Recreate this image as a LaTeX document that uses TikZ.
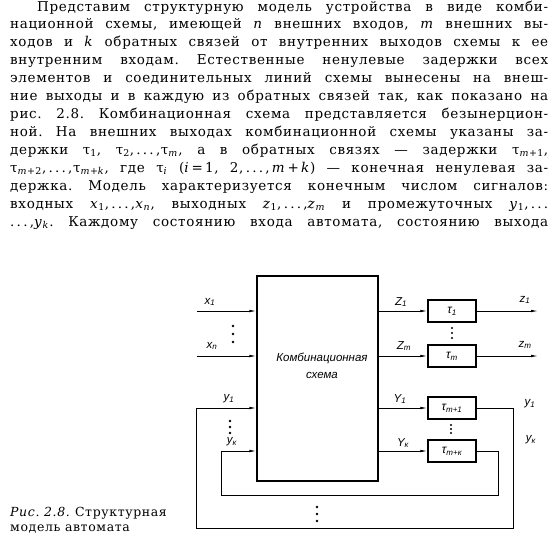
\documentclass[tikz,border=0pt]{standalone}
\usepackage{fontspec}
\setmainfont{DejaVu Serif}[LetterSpace=5]
\newfontfamily\dfont{Liberation Sans}
\usetikzlibrary{arrows.meta, positioning}
\frenchspacing
\newcommand\tline[1]{\hbox to 538pt{#1}}
\newcommand\sig[2]{#1\textsubscript{#2}}
\newcommand\vr[1]{\textit{#1}}
\newcommand\vs[2]{#1\textsubscript{#2}}

\begin{document}
\begin{tikzpicture}[x=1pt, y=-1pt,
    txt/.style={anchor=base west, inner sep=0pt, font=\fontsize{13.5}{17.9}\selectfont},
    scheme/.style={draw, line width=1.3pt, inner sep=0pt},
    delay/.style={draw, line width=1.4pt, minimum width=48pt, minimum height=22pt, inner sep=0pt,
        font=\dfont\itshape\fontsize{12}{13}\selectfont},
    wire/.style={line width=0.8pt},
    arr/.style={wire, -{Latex[length=7pt,width=2.6pt]}},
    lbl/.style={inner sep=0pt, font=\dfont\itshape\fontsize{11.5}{13}\selectfont}]
    \useasboundingbox (0,0) rectangle (559,554);
    % Text above the figure
    \node[txt] (t1) at (10,11) {\tline{\hskip27pt Представим структурную модель устройства в виде комби-}};
    \node[txt] (t2) at (10,28.9) {\tline{национной схемы, имеющей \vr{n} внешних входов, \vr{m} внешних вы-}};
    \node[txt] (t3) at (10,46.8) {\tline{ходов и \vr{k} обратных связей от внутренних выходов схемы к ее}};
    \node[txt] (t4) at (10,64.8) {\tline{внутренним входам. Естественные ненулевые задержки всех}};
    \node[txt] (t5) at (10,82.7) {\tline{элементов и соединительных линий схемы вынесены на внеш-}};
    \node[txt] (t6) at (10,100.6) {\tline{ние выходы и в каждую из обратных связей так, как показано на}};
    \node[txt] (t7) at (10,118.5) {\tline{рис. 2.8. Комбинационная схема представляется безынерцион-}};
    \node[txt] (t8) at (10,136.4) {\tline{ной. На внешних выходах комбинационной схемы указаны за-}};
    \node[txt] (t9) at (10,154.3) {\tline{держки \vs{τ}{1}, \vs{τ}{2},\,.\,.\,.\,,\vs{τ}{\vr{m}}, а в обратных связях — задержки \vs{τ}{\vr{m}+1},}};
    \node[txt] (t10) at (10,172.2) {\tline{\vs{τ}{\vr{m}+2},\,.\,.\,.\,,\vs{τ}{\vr{m}+\vr{k}}, где \vs{τ}{\vr{i}} (\vr{i}\,=\,1, 2,\,.\,.\,.\,,\,\vr{m}\,+\,\vr{k}) — конечная ненулевая за-}};
    \node[txt] (t11) at (10,190.2) {\tline{держка. Модель характеризуется конечным числом сигналов:}};
    \node[txt] (t12) at (10,208.1) {\tline{входных \vs{\vr{x}}{1},\,.\,.\,.\,,\vs{\vr{x}}{\vr{n}}, выходных \vs{\vr{z}}{1},\,.\,.\,.\,,\vs{\vr{z}}{\vr{m}} и промежуточных \vs{\vr{y}}{1},\,.\,.\,.}};
    \node[txt] (t13) at (10,226) {\tline{.\,.\,.\,,\vs{\vr{y}}{\vr{k}}. Каждому состоянию входа автомата, состоянию выхода}};

    % Combinational circuit and delays
    \node[scheme, minimum width=121pt, minimum height=205pt] (ks) at (317.5,378.5) {};
    \node[lbl, align=center, font=\dfont\itshape\fontsize{11.5}{17}\selectfont] (kst) at (322,366) {Комбинационная\\схема};
    \node[delay] (d1) at (452,311) {\sig{τ}{1}};
    \node[delay] (d2) at (452,356) {\sig{τ}{m}};
    \node[delay] (d3) at (452,408) {\sig{τ}{m+1}};
    \node[delay] (d4) at (452,451) {\sig{τ}{m+к}};

    % Inputs
    \coordinate (x1) at (197,311);
    \coordinate (xn) at (197,356);
    \draw[arr] (x1) -- (ks.west |- x1);
    \draw[arr] (xn) -- (ks.west |- xn);
    \node[lbl] (lx1) at (210,302) {\sig{x}{1}};
    \node[lbl] (lxn) at (212,346) {\sig{x}{n}};

    % Outputs
    \draw[arr] (ks.east |- d1) -- (d1.west);
    \draw[arr] (ks.east |- d2) -- (d2.west);
    \draw[arr] (ks.east |- d3) -- (d3.west);
    \draw[arr] (ks.east |- d4) -- (d4.west);
    \node[lbl] (lZ1) at (401,302) {\sig{Z}{1}};
    \node[lbl] (lZm) at (404,346) {\sig{Z}{m}};
    \node[lbl] (lY1) at (400,399) {\sig{Y}{1}};
    \node[lbl] (lYk) at (403,443) {\sig{Y}{к}};
    \coordinate (z1) at (538,311);
    \coordinate (zm) at (538,356);
    \draw[arr] (d1.east) -- (z1);
    \draw[arr] (d2.east) -- (zm);
    \node[lbl] (lz1) at (525,300) {\sig{z}{1}};
    \node[lbl] (lzm) at (525,345) {\sig{z}{m}};

    % Feedback loops
    \coordinate (f1) at (513,528);
    \coordinate (g1) at (196,408);
    \coordinate (fk) at (498,495);
    \coordinate (gk) at (221,451);
    \draw[arr] (d3.east) -| (f1) -| (g1) -- (ks.west |- g1);
    \draw[arr] (d4.east) -| (fk) -| (gk) -- (ks.west |- gk);
    \node[lbl] (ly1) at (229,399) {\sig{y}{1}};
    \node[lbl] (lyk) at (232,442) {\sig{y}{к}};
    \node[lbl] (ry1) at (530,404) {\sig{y}{1}};
    \node[lbl] (ryk) at (531,440) {\sig{y}{к}};

    % Dots
    \foreach \y in {326,334,342} \fill (233,\y) circle (1.3pt);
    \foreach \y in {421,427,433} \fill (230,\y) circle (1.3pt);
    \foreach \y in {328,333,338} \fill (452,\y) circle (1.2pt);
    \foreach \y in {425,429,433} \fill (451,\y) circle (1.2pt);
    \foreach \y in {507,514,521} \fill (317,\y) circle (1.3pt);

    % Caption
    \node[anchor=base west, inner sep=0pt, font=\fontsize{12.5}{15}\selectfont] (cap1) at (10,516)
        {\textit{Рис. 2.8.} Структурная};
    \node[anchor=base west, inner sep=0pt, font=\fontsize{12.5}{15}\selectfont] (cap2) at (10,531)
        {модель автомата};
\end{tikzpicture}
\end{document}
